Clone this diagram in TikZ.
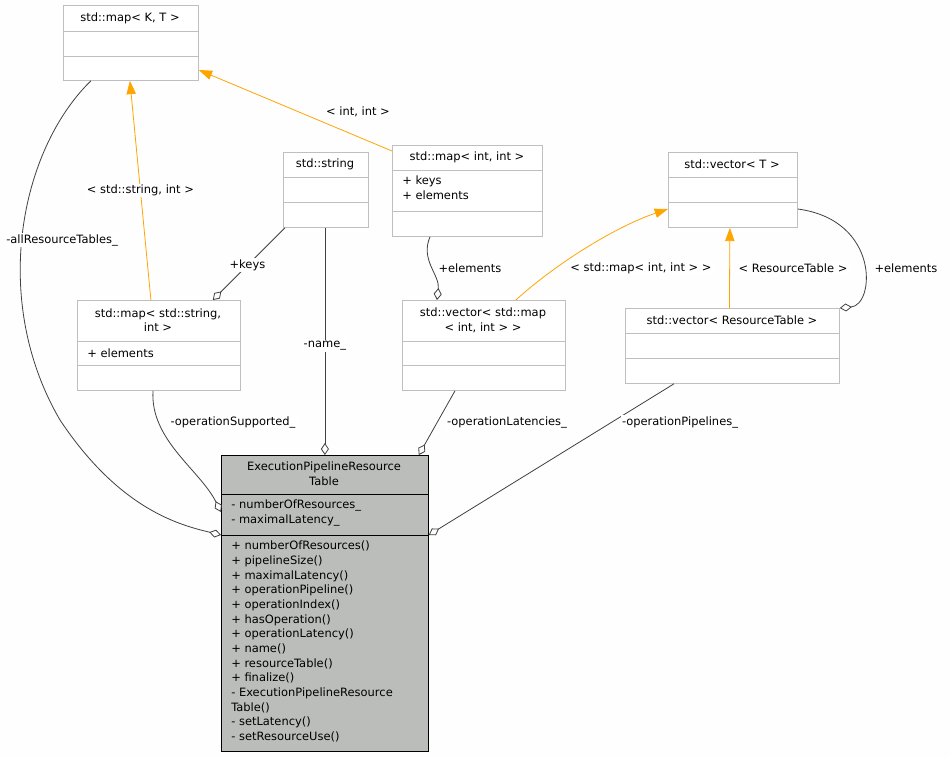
\documentclass[tikz,border=0pt]{standalone}
\usepackage{fontspec}
\setmainfont{DejaVu Sans}
\usetikzlibrary{arrows.meta,calc,positioning}
\definecolor{EdgeGray}{HTML}{404040}
\definecolor{BoxGray}{HTML}{BFBFBF}
\definecolor{MainFill}{HTML}{BBBDBA}
\definecolor{InhOrange}{HTML}{FFA500}
\tikzset{
	box/.style={draw=BoxGray,fill=white,anchor=north west,inner sep=0pt,line width=0.6pt},
	txt/.style={font=\fontsize{8.6}{11}\selectfont,inner sep=0pt,text=black},
	use/.style={EdgeGray,line width=0.6pt,-{Diamond[open,length=9pt,width=6pt]}},
	inh/.style={InhOrange,line width=0.6pt,-{Triangle[length=10pt,width=7pt]}},
	lbl/.style={txt,fill=white,inner sep=1pt}
}
\begin{document}
\begin{tikzpicture}[x=0.75pt,y=-0.75pt]
		\useasboundingbox[fill=white!99!gray] (0,0) rectangle (950,757);
		
		% class boxes
		\node[box,minimum width=101.25pt,minimum height=56.25pt] (mapKT) at (63,5) {};
		\draw[BoxGray] (63,31) -- (198,31) (63,56) -- (198,56);
		\node[txt] at (130,18) {std::map< K, T >};
		
		\node[box,minimum width=63.75pt,minimum height=56.25pt] (str) at (283,152) {};
		\draw[BoxGray] (283,177) -- (368,177) (283,202) -- (368,202);
		\node[txt] at (325,164) {std::string};
		
		\node[box,minimum width=112.5pt,minimum height=68.25pt] (mapII) at (392,145) {};
		\draw[BoxGray] (392,170) -- (542,170) (392,211) -- (542,211);
		\node[txt] at (467,157) {std::map< int, int >};
		\node[txt,anchor=north west,align=left] at (402,176) {+ keys\\+ elements};
		
		\node[box,minimum width=96.75pt,minimum height=56.25pt] (vecT) at (668,152) {};
		\draw[BoxGray] (668,177) -- (797,177) (668,202) -- (797,202);
		\node[txt] at (732,164) {std::vector< T >};
		
		\node[box,minimum width=122.25pt,minimum height=67.5pt] (mapSI) at (77,300) {};
		\draw[BoxGray] (77,341) -- (240,341) (77,365) -- (240,365);
		\node[txt,align=center] at (158,320) {std::map< std::string,\\int >};
		\node[txt,anchor=west] at (87,353) {+ elements};
		
		\node[box,minimum width=122.25pt,minimum height=67.5pt] (vecMap) at (402,300) {};
		\draw[BoxGray] (402,341) -- (565,341) (402,365) -- (565,365);
		\node[txt,align=center] at (483,320) {std::vector< std::map\\< int, int > >};
		
		\node[box,minimum width=160.5pt,minimum height=56.25pt] (vecRT) at (625,308) {};
		\draw[BoxGray] (625,333) -- (839,333) (625,358) -- (839,358);
		\node[txt] at (732,320) {std::vector< ResourceTable >};
		
		% main class
		\node[box,draw=black,fill=MainFill,minimum width=155.25pt,minimum height=222pt] (eprt) at (221,455) {};
		\draw (221,494) -- (428,494) (221,535) -- (428,535);
		\node[txt,align=center] at (324,474) {ExecutionPipelineResource\\Table};
		\node[txt,anchor=north west,align=left] at (231,500) {- numberOfResources\_\\- maximalLatency\_};
		\node[txt,anchor=north west,align=left] at (231,541) {+ numberOfResources()\\+ pipelineSize()\\+ maximalLatency()\\+ operationPipeline()\\+ operationIndex()\\+ hasOperation()\\+ operationLatency()\\+ name()\\+ resourceTable()\\+ finalize()\\- ExecutionPipelineResource\\Table()\\- setLatency()\\- setResourceUse()};
		
		% inheritance
		\draw[inh] ($(mapSI.north)+(-8,0)$) -- node[lbl,pos=0.5] {< std::string, int >} ($(mapKT.south)+(-1,0)$);
		\draw[inh] ($(mapII.north west)+(0,6)$) -- ($(mapKT.north east)+(0,65)$);
		\node[lbl] at (358,112) {< int, int >};
		\draw[inh] ($(vecMap.north)+(32,0)$) .. controls (560,260) and (620,225) .. ($(vecT.north west)+(0,57)$);
		\node[lbl] at (641,268) {< std::map< int, int > >};
		\draw[inh] ($(vecRT.north)+(-3,0)$) -- ($(vecT.south)+(-3,0)$);
		\node[lbl] at (793,268) {< ResourceTable >};
		
		% usage
		\draw[use] ($(mapKT.south)+(-40,0)$) .. controls (20,150) and (-10,300) .. (60,420) .. controls (120,510) and (180,525) .. ($(eprt.north west)+(0,80)$);
		\node[lbl] at (62,240) {-allResourceTables\_};
		\draw[use] ($(str.south west)+(2,0)$) -- node[lbl,pos=0.52] {+keys} ($(mapSI.north east)+(-28,0)$);
		\draw[use] ($(str.south)+(-1,0)$) -- node[lbl,pos=0.52] {-name\_} ($(eprt.north)+(0,0)$);
		\draw[use] ($(mapII.south west)+(38,0)$) .. controls (420,260) and (440,275) .. ($(vecMap.north west)+(35,0)$);
		\node[lbl] at (470,268) {+elements};
		\draw[use] ($(vecT.north east)+(0,57)$) .. controls (880,220) and (875,305) .. ($(vecRT.north east)+(0,0)$);
		\node[lbl] at (906,268) {+elements};
		\draw[use] ($(mapSI.south west)+(76,0)$) .. controls (150,440) and (200,470) .. ($(eprt.north west)+(0,57)$);
		\node[lbl] at (233,422) {-operationSupported\_};
		\draw[use] ($(vecMap.south west)+(53,0)$) -- ($(eprt.north east)+(-10,0)$);
		\node[lbl] at (507,422) {-operationLatencies\_};
		\draw[use] ($(vecRT.south west)+(49,0)$) -- ($(eprt.north east)+(0,80)$);
		\node[lbl] at (680,422) {-operationPipelines\_};
\end{tikzpicture}
\end{document}
